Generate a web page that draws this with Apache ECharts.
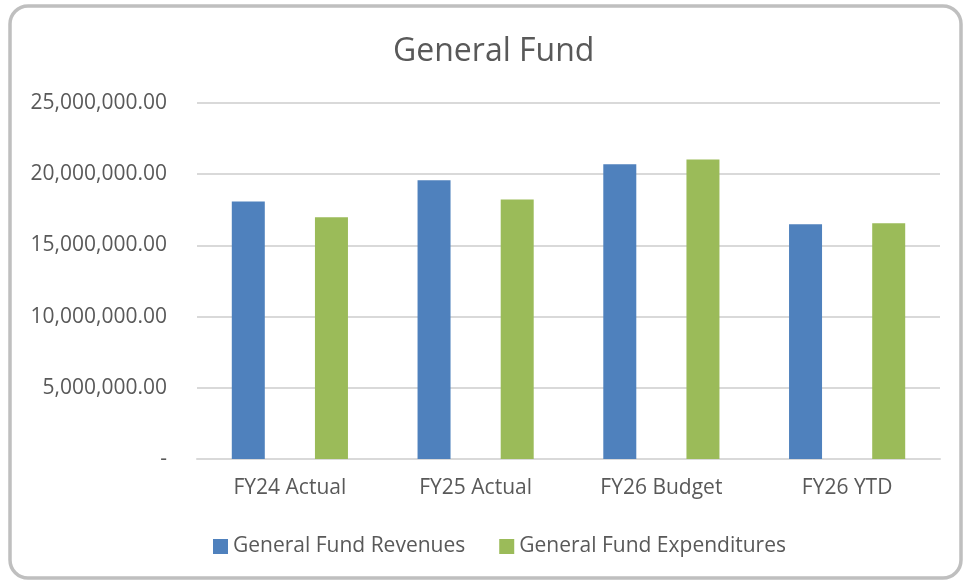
<!DOCTYPE html>
<html>
<head>
<meta charset="utf-8">
<script src="https://cdn.jsdelivr.net/npm/echarts@6/dist/echarts.min.js"></script>
<style>
  html, body { margin: 0; padding: 0; background: #fff; }
  #main { width: 964px; height: 580px; }
</style>
</head>
<body>
<div id="main"></div>
<script>
// data
var categories = ['FY24 Actual', 'FY25 Actual', 'FY26 Budget', 'FY26 YTD'];
var revenues = [18090000, 19570000, 20690000, 16480000];
var expenditures = [16970000, 18230000, 21040000, 16550000];
var seriesNames = ['General Fund Revenues', 'General Fund Expenditures'];

var font = '"Open Sans", sans-serif';
var textColor = '#595959';

function fmtMoney(v) {
    if (v === 0) return '-';
    return v.toLocaleString('en-US', { minimumFractionDigits: 2, maximumFractionDigits: 2 });
}

var chart = echarts.init(document.getElementById('main'));

var option = {
    backgroundColor: '#fff',
    animation: false,
    title: {
        text: 'General Fund',
        left: 388,
        top: 31,
        textStyle: { fontFamily: font, fontSize: 32, fontWeight: 'normal', color: textColor }
    },
    legend: {
        bottom: 18,
        left: 208,
        itemWidth: 15,
        itemHeight: 15,
        itemGap: 34,
        icon: 'rect',
        data: seriesNames,
        textStyle: { fontFamily: font, fontSize: 21, color: textColor }
    },
    grid: { left: 197, right: 24, top: 103, bottom: 121 },
    xAxis: {
        type: 'category',
        data: categories,
        axisTick: { show: false },
        axisLine: { lineStyle: { color: '#d9d9d9', width: 2 } },
        axisLabel: { fontFamily: font, fontSize: 21, color: textColor, margin: 19 }
    },
    yAxis: {
        type: 'value',
        min: 0,
        max: 25000000,
        interval: 5000000,
        axisLine: { show: false },
        axisTick: { show: false },
        splitLine: { lineStyle: { color: '#d9d9d9', width: 2 } },
        axisLabel: {
            fontFamily: font, fontSize: 21, color: textColor, margin: 30,
            formatter: fmtMoney
        }
    },
    series: [
        {
            name: seriesNames[0],
            type: 'bar',
            data: revenues,
            barWidth: 33,
            barGap: '152%',
            itemStyle: { color: '#4f81bd' }
        },
        {
            name: seriesNames[1],
            type: 'bar',
            data: expenditures,
            barWidth: 33,
            itemStyle: { color: '#9bbb59' }
        }
    ],
    graphic: [{
        type: 'rect',
        shape: { x: 10, y: 6, width: 951, height: 572, r: 18 },
        style: { fill: 'none', stroke: '#bfbfbf', lineWidth: 3.5 },
        silent: true
    }]
};

chart.setOption(option);
</script>
</body>
</html>
